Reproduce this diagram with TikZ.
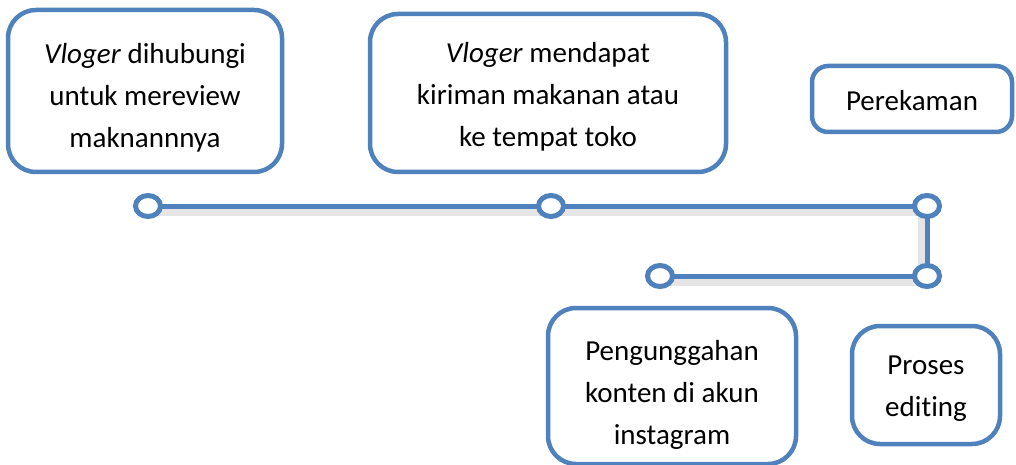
\documentclass[tikz,border=0pt]{standalone}
\usepackage{fontspec}
\usetikzlibrary{shapes.geometric}
\setmainfont{Carlito}[Ligatures=NoCommon]
\definecolor{boxblue}{HTML}{4F81BD}
\begin{document}
\begin{tikzpicture}[x=1pt,y=1pt,
  box/.style={draw=boxblue, line width=4.5pt, rounded corners=28pt, fill=white, inner sep=0pt},
  txt/.style={align=center, font=\fontsize{29}{42}\selectfont, inner sep=0pt},
  dot/.style={draw=boxblue, line width=5pt, fill=white, ellipse, minimum width=25pt, minimum height=21pt, inner sep=0pt},
  link/.style={draw=boxblue, line width=5pt},
  shade/.style={draw=black, opacity=0.10, line width=8pt}]
\useasboundingbox (0,0) rectangle (1016,464);
% boxes
\node[box, minimum width=274pt, minimum height=162pt] (b1) at (145,373) {};
\node[box, minimum width=356pt, minimum height=158pt] (b2) at (548,371) {};
\node[box, rounded corners=16pt, minimum width=200pt, minimum height=66pt] (b3) at (912,365) {};
\node[box, minimum width=248pt, minimum height=156pt] (b4) at (672,78) {};
\node[box, minimum width=148pt, minimum height=118pt] (b5) at (926,79) {};
% texts
\node[txt] (t1) at ([yshift=-7pt]b1.center) {\textit{Vloger} dihubungi\\untuk mereview\\maknannnya};
\node[txt] (t2) at ([yshift=-4pt]b2.center) {\textit{Vloger} mendapat\\kiriman makanan atau\\ke tempat toko};
\node[txt] (t3) at ([yshift=-2pt]b3.center) {Perekaman};
\node[txt] (t4) at ([yshift=-9pt]b4.center) {Pengunggahan\\konten di akun\\instagram};
\node[txt] (t5) at ([yshift=-4pt]b5.center) {Proses\\editing};
% connector points
\coordinate (c1) at (148,258);
\coordinate (c2) at (551,258);
\coordinate (c3) at (927,258);
\coordinate (c4) at (927,188);
\coordinate (c5) at (660,188);
% shadows
\draw[shade] ([yshift=-6pt]c1) -- ([yshift=-6pt]c3);
\draw[shade] ([yshift=-6pt]c5) -- ([yshift=-6pt]c4);
\draw[shade] ([xshift=-5pt]c3) -- ([xshift=-5pt]c4);
% links
\draw[link] (c1) -- (c2);
\draw[link] (c2) -- (c3);
\draw[link] (c3) -- (c4);
\draw[link] (c4) -- (c5);
% dots
\node[dot] (d1) at (c1) {};
\node[dot] (d2) at (c2) {};
\node[dot] (d3) at (c3) {};
\node[dot] (d4) at (c4) {};
\node[dot] (d5) at (c5) {};
\end{tikzpicture}
\end{document}
